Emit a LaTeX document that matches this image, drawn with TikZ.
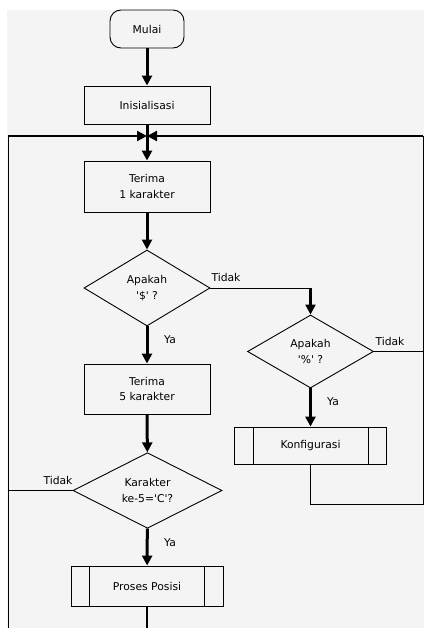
\documentclass[tikz,border=0pt]{standalone}
\usepackage{fontspec}
\setmainfont{DejaVu Sans}
\usetikzlibrary{shapes.geometric,arrows.meta}
\definecolor{bg}{HTML}{F4F4F4}
\begin{document}
\begin{tikzpicture}[x=1bp,y=-1bp,
  every node/.style={font=\fontsize{10.8}{16}\selectfont, align=center, inner sep=0pt},
  term/.style={draw, line width=0.9bp, rounded corners=11bp, minimum width=74bp, minimum height=38bp},
  box/.style={draw, line width=0.9bp, minimum width=126bp},
  proc/.style={draw, line width=0.9bp, minimum width=152bp},
  dec/.style={draw, diamond, line width=0.9bp},
  lbl/.style={font=\fontsize{10.8}{13}\selectfont},
  flow/.style={line width=3bp, -{Triangle[width=10bp,length=10bp]}},
  merge/.style={line width=2.2bp, -{Triangle[width=10bp,length=10bp]}},
  thin/.style={line width=0.9bp},
]
\useasboundingbox (0,0) rectangle (424,628);
\fill[white] (0,0) rectangle (424,628);
\fill[bg] (7,10) rectangle (424,628);

% nodes
\node[term] (mulai) at (147,29) {Mulai};
\node[box, minimum height=38bp] (init) at (147,105) {Inisialisasi};
\node[box, minimum height=51bp] (t1) at (147,186.5) {Terima\\1 karakter};
\node[dec, minimum width=126bp, minimum height=76bp] (d1) at (147,288) {Apakah\\\textquotesingle\$\textquotesingle\ ?};
\node[dec, minimum width=126bp, minimum height=73bp] (d2) at (310.5,351.5) {Apakah\\\textquotesingle\%\textquotesingle\ ?};
\node[proc, minimum height=37bp] (konf) at (310.5,445.5) {Konfigurasi};
\node[box, minimum height=50bp] (t5) at (147,389) {Terima\\5 karakter};
\node[dec, minimum width=149bp, minimum height=73bp] (d3) at (147.5,490.5) {Karakter\\ke-5=\textquotesingle C\textquotesingle?};
\node[proc, minimum height=40bp] (pp) at (147,586) {Proses Posisi};

% inner lines of predefined processes
\draw[thin] ([xshift=19bp]konf.north west) -- ([xshift=19bp]konf.south west);
\draw[thin] ([xshift=-19bp]konf.north east) -- ([xshift=-19bp]konf.south east);
\draw[thin] ([xshift=19bp]pp.north west) -- ([xshift=19bp]pp.south west);
\draw[thin] ([xshift=-19bp]pp.north east) -- ([xshift=-19bp]pp.south east);

% loop coordinates
\coordinate (m) at (147,136);
\coordinate (lt) at (8,136);
\coordinate (lb) at (8,628);
\coordinate (rt) at (423,136);
\coordinate (rb) at (423,504);
\coordinate (bot) at (147,628);

% main flow
\draw[flow] (mulai) -- (init);
\draw[flow] (init) -- (t1);
\draw[flow] (t1) -- (d1);
\draw[flow] (d1) -- (t5);
\draw[flow] (t5) -- (d3);
\draw[flow] (d3) -- (pp);
\draw[line width=1.2bp] (pp) -- (bot);

% Tidak from d1 to d2
\draw[thin] (d1.east) -- (d1.east -| d2.north);
\draw[merge] ([yshift=-0.45bp]d1.east -| d2.north) -- (d2.north);
\draw[flow] (d2) -- (konf);

% loops
\draw[thin] (d2.east) -- (d2.east -| rt);
\draw[thin] (konf.south) -- (konf.south |- rb) -- (rb) -- (rt);
\draw[thin] (d3.west) -- (d3.west -| lt);
\draw[thin] (lb) -- (lt);
\draw[merge] (lt) -- (m);
\draw[merge] (rt) -- (m);

% labels
\node[lbl] (l1) at (226,277) {Tidak};
\node[lbl] (l2) at (390,341) {Tidak};
\node[lbl] (l3) at (58,480) {Tidak};
\node[lbl] (y1) at (170,340) {Ya};
\node[lbl] (y2) at (333,402) {Ya};
\node[lbl] (y3) at (170,543) {Ya};
\end{tikzpicture}
\end{document}
